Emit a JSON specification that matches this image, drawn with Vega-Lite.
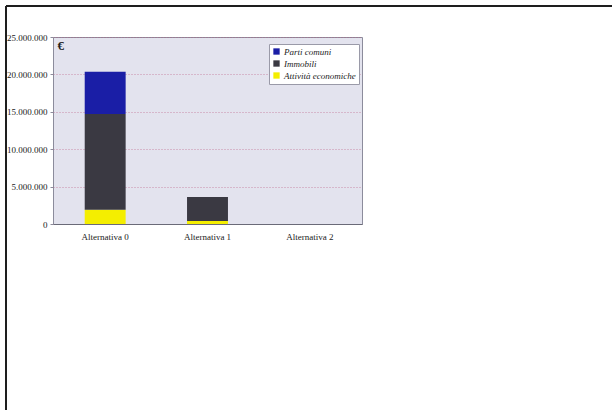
{
  "$schema": "https://vega.github.io/schema/vega-lite/v6.json",
  "width": 309,
  "height": 187,
  "autosize": "none",
  "padding": {"left": 53, "top": 37, "right": 250, "bottom": 186},
  "background": "white",
  "config": {
    "locale": {"number": {"decimal": ",", "thousands": ".", "grouping": [3], "currency": ["€", ""]}},
    "font": "Liberation Serif",
    "view": {"fill": "#e3e3ee", "stroke": "#8c8c9c", "strokeWidth": 1}
  },
  "layer": [
    {
      "data": {
        "values": [
          {"alternativa": "Alternativa 0", "voce": "Attività economiche", "ord": 1, "euro": 1900000},
          {"alternativa": "Alternativa 0", "voce": "Immobili", "ord": 2, "euro": 12800000},
          {"alternativa": "Alternativa 0", "voce": "Parti comuni", "ord": 3, "euro": 5650000},
          {"alternativa": "Alternativa 1", "voce": "Attività economiche", "ord": 1, "euro": 400000},
          {"alternativa": "Alternativa 1", "voce": "Immobili", "ord": 2, "euro": 3200000},
          {"alternativa": "Alternativa 1", "voce": "Parti comuni", "ord": 3, "euro": 0},
          {"alternativa": "Alternativa 2", "voce": "Attività economiche", "ord": 1, "euro": 0},
          {"alternativa": "Alternativa 2", "voce": "Immobili", "ord": 2, "euro": 0},
          {"alternativa": "Alternativa 2", "voce": "Parti comuni", "ord": 3, "euro": 0}
        ]
      },
      "mark": {"type": "bar"},
      "encoding": {
        "x": {
          "field": "alternativa",
          "type": "nominal",
          "sort": ["Alternativa 0", "Alternativa 1", "Alternativa 2"],
          "scale": {"paddingInner": 0.6, "paddingOuter": 0.31},
          "axis": {
            "title": null,
            "labelAngle": 0,
            "labelFont": "Liberation Serif",
            "labelFontSize": 9,
            "labelColor": "#222222",
            "labelPadding": 8,
            "ticks": false,
            "domainColor": "#6a6a78",
            "domainWidth": 1
          }
        },
        "y": {
          "field": "euro",
          "type": "quantitative",
          "stack": "zero",
          "scale": {"domain": [0, 25000000], "nice": false},
          "axis": {
            "title": "€",
            "titleAngle": 0,
            "titleX": 4,
            "titleY": 2,
            "titleAlign": "left",
            "titleBaseline": "top",
            "titleFont": "Liberation Serif",
            "titleFontSize": 13,
            "titleFontWeight": "bold",
            "titleColor": "#222222",
            "values": [0, 5000000, 10000000, 15000000, 20000000, 25000000],
            "format": ",d",
            "labelFont": "Liberation Serif",
            "labelFontSize": 9,
            "labelColor": "#222222",
            "labelPadding": 3,
            "tickSize": 3,
            "tickColor": "#8c8c9c",
            "domain": false,
            "grid": true,
            "gridColor": "#b8507a",
            "gridDash": [1, 2],
            "gridOpacity": 0.6
          }
        },
        "color": {
          "field": "voce",
          "type": "nominal",
          "scale": {
            "domain": ["Parti comuni", "Immobili", "Attività economiche"],
            "range": ["#1a1ea6", "#3a3942", "#f4ee00"]
          },
          "legend": {
            "title": null,
            "orient": "none",
            "legendX": 216,
            "legendY": 7,
            "direction": "vertical",
            "fillColor": "white",
            "strokeColor": "#9a9aa8",
            "padding": 3,
            "symbolType": "square",
            "symbolSize": 40,
            "symbolStrokeWidth": 0,
            "labelFont": "Liberation Serif",
            "labelFontStyle": "italic",
            "labelFontSize": 9,
            "labelColor": "#222222",
            "labelOffset": 3,
            "rowPadding": 2
          }
        },
        "order": {"field": "ord", "type": "quantitative"}
      }
    },
    {
      "description": "Page frame: top edge of the sheet",
      "data": {"values": [{}]},
      "mark": {"type": "rule", "color": "#1e1e1e", "strokeWidth": 2},
      "encoding": {
        "x": {"value": -47},
        "x2": {"value": 570},
        "y": {"value": -31}
      }
    },
    {
      "description": "Page frame: left edge of the sheet",
      "data": {"values": [{}]},
      "mark": {"type": "rule", "color": "#1e1e1e", "strokeWidth": 2},
      "encoding": {
        "x": {"value": -47},
        "y": {"value": -31},
        "y2": {"value": 380}
      }
    }
  ]
}
